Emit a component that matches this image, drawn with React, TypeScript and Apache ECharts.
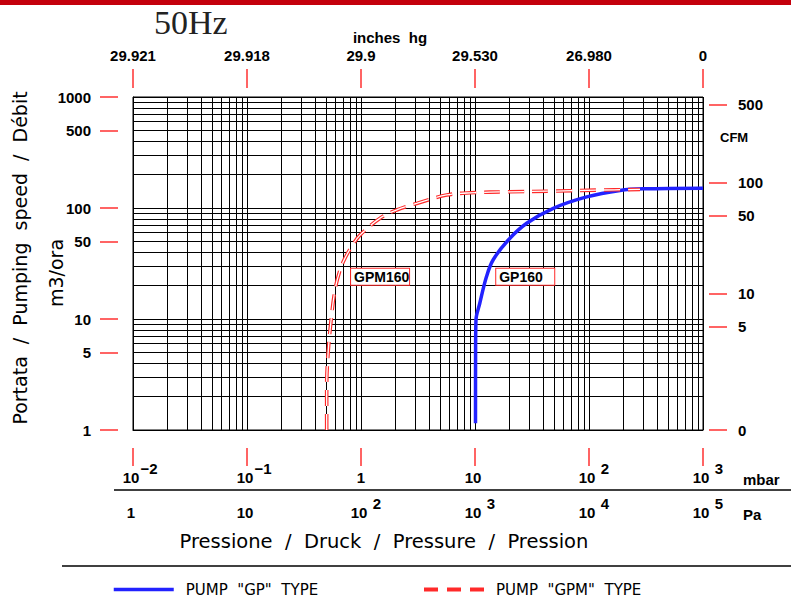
import React, { useEffect, useRef } from 'react';
import * as echarts from 'echarts';

// ---------- data ----------
const K_CFM = 0.5886; // 1 m3/h in CFM
const mbarTicks = [0.01, 0.1, 1, 10, 100, 1000];
const mbarBase = ['10', '10', '1', '10', '10', '10'];
const mbarExp = ['−2', '−1', '', '', '2', '3'];
const paBase = ['1', '10', '10', '10', '10', '10'];
const paExp = ['', '', '2', '3', '4', '5'];
const inchesHg = ['29.921', '29.918', '29.9', '29.530', '26.980', '0'];
const speedTicks = [1, 5, 10, 50, 100, 500, 1000];
const cfmTicks = [0, 5, 10, 50, 100, 500];
const gridMultipliers = [1, 2, 3, 4, 5, 6, 7, 8, 9];
const xDecades = [0.01, 0.1, 1, 10, 100];
const yDecades = [1, 10, 100];

const gpName = 'PUMP "GP" TYPE';
const gpmName = 'PUMP "GPM" TYPE';

// (mbar, m3/h)
const gpData: [number, number][] = [
  [10.1, 1.15], [10.12, 5], [10.2, 9.8], [11, 13.8], [12.6, 24], [14.4, 34],
  [19.6, 51.5], [28.4, 72.8], [48.6, 99.4], [95.5, 126], [187, 144], [300, 149], [1000, 151],
];
const gpmData: [number, number][] = [
  [0.5, 1.0], [0.5, 2.5], [0.515, 5], [0.545, 9.5], [0.59, 18], [0.65, 27], [0.72, 35],
  [0.85, 47], [0.98, 57], [1.47, 81], [2.06, 96], [3.08, 110], [5.65, 131], [9.07, 137],
  [20, 140], [50, 142], [120, 145], [280, 147],
];
const gpLabelAt: [number, number] = [15.2, 24];
const gpmLabelAt: [number, number] = [0.81, 24];

const gridX: number[] = [];
xDecades.forEach((d) => gridMultipliers.forEach((m) => gridX.push(d * m)));
gridX.push(1000);
const gridY: number[] = [];
yDecades.forEach((d) => gridMultipliers.forEach((m) => gridY.push(d * m)));
gridY.push(1000);

// ---------- styles ----------
const RED = '#ff2a2a';
const BLUE = '#2222ff';
const TICK_RED = '#ff3030';
const LABEL_FONT = 'Liberation Sans';
const TITLE_FONT = 'DejaVu Sans';

const idxOf = (v: number) => Math.round(Math.log10(v)) + 2;

const tokenBase = { fontFamily: LABEL_FONT, fontWeight: 'bold' as const, fontSize: 15, color: '#000' };
const powRich = {
  p: { ...tokenBase, width: 14, lineHeight: 24 },
  e: { ...tokenBase, width: 4, lineHeight: 24 },
  b: { ...tokenBase, width: 18, align: 'left', verticalAlign: 'bottom', lineHeight: 14 },
  c: { ...tokenBase, verticalAlign: 'bottom', lineHeight: 14 },
  s: { ...tokenBase, width: 18, align: 'left', verticalAlign: 'top', lineHeight: 14 },
};

const boxLabel = (text: string) => ({
  show: true,
  position: 'right',
  distance: 0,
  formatter: text,
  color: '#000',
  fontFamily: LABEL_FONT,
  fontWeight: 'bold',
  fontSize: 14,
  lineHeight: 15,
  width: 53,
  backgroundColor: '#fff',
  borderColor: RED,
  borderWidth: 1,
  padding: [1, 2, 0, 3],
});

export default function App() {
  const ref = useRef<HTMLDivElement>(null);

  useEffect(() => {
    if (!ref.current) return;
    const chart = echarts.init(ref.current, undefined, { renderer: 'svg' });

    const redTick = { show: true, length: 18, lineStyle: { color: TICK_RED, width: 1.5 } };
    const labelText = { fontFamily: LABEL_FONT, fontWeight: 'bold', fontSize: 15, color: '#000' };
    const legendBase = {
      top: 582, itemWidth: 60, itemHeight: 14, padding: 0,
      itemStyle: { opacity: 0 },
      formatter: (n: string) => n.replace(/ /g, '  '),
      textStyle: { fontFamily: TITLE_FONT, fontSize: 15, color: '#000', padding: [0, 0, 0, 7] },
    };

    const option: any = {
      animation: false,
      backgroundColor: '#fff',
      grid: { left: 133, right: 88, top: 97, bottom: 175, show: true, borderColor: '#000', borderWidth: 1 },
      xAxis: [
        {
          type: 'log', logBase: 10, min: 0.01, max: 1000,
          axisLine: { show: true, lineStyle: { color: '#000', width: 1 } },
          axisTick: { show: false, customValues: gridX },
          axisLabel: { show: false },
          splitLine: { show: true, lineStyle: { color: '#000', width: 1 } },
        },
        {
          type: 'log', logBase: 10, min: 0.01, max: 1000, position: 'bottom', offset: 18,
          axisLine: { show: false },
          axisTick: { ...redTick, customValues: mbarTicks },
          splitLine: { show: false },
          axisLabel: {
            customValues: mbarTicks, margin: 13, rich: powRich,
            formatter: (v: number) => {
              const i = idxOf(v);
              const b = mbarBase[i];
              const e = mbarExp[i];
              if (!e && b === '1') return `{e| }{c|1}{e| }`;
              return `{p| }{b|${b}}{s|${e || ' '}}`;
            },
          },
        },
        {
          type: 'log', logBase: 10, min: 0.01, max: 1000, position: 'top', offset: 9,
          axisLine: { show: false },
          axisTick: { ...redTick, length: 19, customValues: mbarTicks },
          splitLine: { show: false },
          axisLabel: {
            ...labelText, customValues: mbarTicks, margin: 25,
            formatter: (v: number) => inchesHg[idxOf(v)],
          },
        },
        {
          type: 'log', logBase: 10, min: 0.01, max: 1000, position: 'bottom', offset: 18,
          axisLine: { show: false },
          axisTick: { show: false },
          splitLine: { show: false },
          axisLabel: {
            customValues: mbarTicks, margin: 48, rich: powRich,
            formatter: (v: number) => {
              const i = idxOf(v);
              return `{p| }{b|${paBase[i]}}{s|${paExp[i] || ' '}}`;
            },
          },
        },
      ],
      yAxis: [
        {
          type: 'log', logBase: 10, min: 1, max: 1000,
          axisLine: { show: true, lineStyle: { color: '#000', width: 1 } },
          axisTick: { show: false, customValues: gridY },
          axisLabel: { show: false },
          splitLine: { show: true, lineStyle: { color: '#000', width: 1 } },
        },
        {
          type: 'log', logBase: 10, min: 1, max: 1000, position: 'left', offset: 15,
          axisLine: { show: false },
          axisTick: { ...redTick, customValues: speedTicks },
          splitLine: { show: false },
          axisLabel: { ...labelText, customValues: speedTicks, margin: 27, formatter: (v: number) => String(v) },
        },
        {
          type: 'log', logBase: 10, min: K_CFM, max: 1000 * K_CFM, position: 'right', offset: 6,
          axisLine: { show: false },
          axisTick: { ...redTick, customValues: cfmTicks.map((c) => (c === 0 ? K_CFM : c)) },
          splitLine: { show: false },
          axisLabel: {
            ...labelText, align: 'left', customValues: cfmTicks.map((c) => (c === 0 ? K_CFM : c)), margin: 29,
            formatter: (v: number) => (v < 1 ? '0' : String(Math.round(v))),
          },
        },
      ],
      legend: [
        { ...legendBase, data: [gpName], left: 112, lineStyle: { width: 3.5 } },
        { ...legendBase, data: [gpmName], left: 422, lineStyle: { width: 4, type: [14, 9] } },
      ],
      series: [
        {
          name: gpName, type: 'line', data: gpData, symbol: 'none', smooth: 0.35,
          lineStyle: { color: BLUE, width: 3.5 }, itemStyle: { color: BLUE },
          markPoint: {
            symbol: 'circle', symbolSize: 1, itemStyle: { color: 'transparent' },
            label: boxLabel('GP160'),
            data: [{ coord: gpLabelAt, name: 'GP160' }],
          },
        },
        {
          name: gpmName, type: 'line', data: gpmData, symbol: 'none', smooth: 0.35,
          lineStyle: { color: RED, width: 3.6, type: [16, 8] }, itemStyle: { color: RED },
          markPoint: {
            symbol: 'circle', symbolSize: 1, itemStyle: { color: 'transparent' },
            label: boxLabel('GPM160'),
            data: [{ coord: gpmLabelAt, name: 'GPM160' }],
          },
        },
        {
          name: 'gpm-inner', type: 'line', data: gpmData, symbol: 'none', smooth: 0.35, silent: true,
          lineStyle: { color: '#fff', width: 1.3, type: [16, 8] }, itemStyle: { color: '#fff' },
        },
      ],
      graphic: [
        { type: 'rect', left: 0, top: 0, shape: { width: 791, height: 5 }, style: { fill: '#c4000c' } },
        {
          type: 'text', x: 154, y: 22,
          style: { text: '50Hz', font: '34px "Liberation Serif"', fill: '#222', align: 'left', verticalAlign: 'middle' },
        },
        {
          type: 'text', x: 390, y: 37,
          style: { text: 'inches  hg', font: `bold 15px "${LABEL_FONT}"`, fill: '#000', align: 'center', verticalAlign: 'middle' },
        },
        {
          type: 'text', x: 720, y: 137,
          style: { text: 'CFM', font: `bold 13px "${LABEL_FONT}"`, fill: '#000', align: 'left', verticalAlign: 'middle' },
        },
        {
          type: 'text', x: 743, y: 479,
          style: { text: 'mbar', font: `bold 15px "${LABEL_FONT}"`, fill: '#000', align: 'left', verticalAlign: 'middle' },
        },
        {
          type: 'text', x: 743, y: 514,
          style: { text: 'Pa', font: `bold 15px "${LABEL_FONT}"`, fill: '#000', align: 'left', verticalAlign: 'middle' },
        },
        { type: 'line', shape: { x1: 114, y1: 490, x2: 791, y2: 490 }, style: { stroke: '#000', lineWidth: 1.5 } },
        {
          type: 'text', x: 384, y: 541,
          style: { text: 'Pressione  /  Druck  /  Pressure  /  Pression', font: `19.5px "${TITLE_FONT}"`, fill: '#000', align: 'center', verticalAlign: 'middle' },
        },
        { type: 'line', shape: { x1: 62, y1: 566, x2: 791, y2: 566 }, style: { stroke: '#000', lineWidth: 1.5 } },
        {
          type: 'text', x: 20, y: 258, rotation: Math.PI / 2,
          style: { text: 'Portata  /  Pumping  speed  /  Débit', font: `19px "${TITLE_FONT}"`, fill: '#000', align: 'center', verticalAlign: 'middle' },
        },
        {
          type: 'text', x: 56, y: 273, rotation: Math.PI / 2,
          style: { text: 'm3/ora', font: `19px "${TITLE_FONT}"`, fill: '#000', align: 'center', verticalAlign: 'middle' },
        },
      ],
    };

    chart.setOption(option);
    return () => chart.dispose();
  }, []);

  return <div ref={ref} style={{ position: 'fixed', left: 0, top: 0, width: 791, height: 605 }} />;
}
